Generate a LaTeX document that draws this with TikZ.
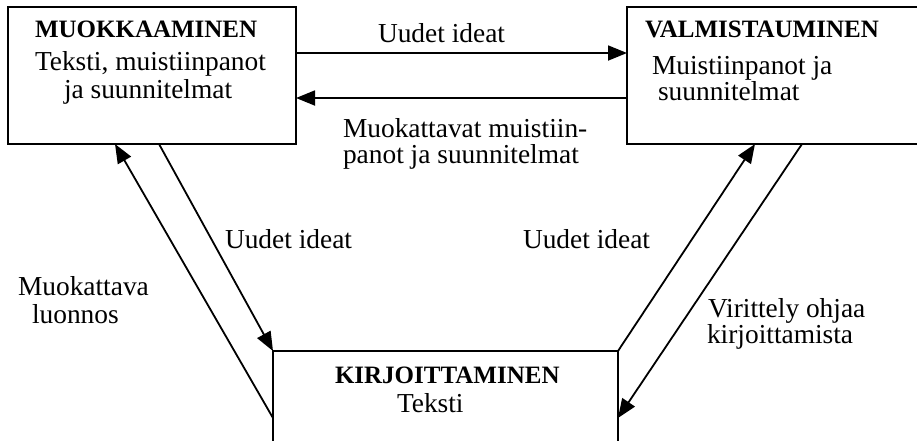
\documentclass[tikz,border=0pt]{standalone}
\usepackage{fontspec}
\setmainfont{Liberation Serif}
\usetikzlibrary{arrows.meta,calc}

\newcommand\lblfont{\fontsize{27.4}{28}\selectfont}
\newcommand\headfont{\fontsize{25}{28}\selectfont\bfseries}

\tikzset{
  stagebox/.style={draw=black, line width=1.5pt, rectangle, outer sep=0pt, inner sep=0pt},
  flow/.style={draw=black, line width=1.8pt, -{Triangle[length=19pt,width=15pt]}},
  txt/.style={anchor=base west, inner sep=0pt, outer sep=0pt, font=\lblfont},
  head/.style={anchor=base west, inner sep=0pt, outer sep=0pt, font=\headfont},
}

\begin{document}
\begin{tikzpicture}[x=1pt, y=-1pt]
  \useasboundingbox (0,0) rectangle (917,440);

  % the three stages
  \node[stagebox, minimum width=288pt, minimum height=137pt] (muok) at (152,75.5) {};
  \node[stagebox, minimum width=303pt, minimum height=137pt] (valm) at (778.5,75.5) {};
  \node[stagebox, minimum width=345pt, minimum height=108pt] (kirj) at (445.5,405) {};

  % stage texts
  \node[head] (muokH) at (35,37) {MUOKKAAMINEN};
  \node[txt]  (muokA) at (35,70) {Teksti, muistiinpanot};
  \node[txt]  (muokB) at (64,98) {ja suunnitelmat};

  \node[head] (valmH) at (645,37) {VALMISTAUMINEN};
  \node[txt]  (valmA) at (652,74) {Muistiinpanot ja};
  \node[txt]  (valmB) at (658,100) {suunnitelmat};

  \node[head] (kirjH) at (335,383) {KIRJOITTAMINEN};
  \node[txt]  (kirjA) at (397,412) {Teksti};

  % connectors between the stages
  \draw[flow] ($(muok.north east)+(0,46)$) -- ($(valm.north west)+(0,46)$);
  \draw[flow] ($(valm.north west)+(0,91)$) -- ($(muok.north east)+(0,91)$);

  \draw[flow] ($(muok.south west)+(151,0)$) -- (kirj.north west);
  \draw[flow] ($(kirj.north west)+(0,67)$) -- ($(muok.south west)+(107,0)$);

  \draw[flow] (kirj.north east) -- ($(valm.south west)+(128,0)$);
  \draw[flow] ($(valm.south west)+(175,0)$) -- ($(kirj.north east)+(0,67)$);

  % connector labels
  \node[txt] (l1) at (378,42) {Uudet ideat};
  \node[txt] (l2a) at (343,137) {Muokattavat muistiin-};
  \node[txt] (l2b) at (343,163) {panot ja suunnitelmat};
  \node[txt] (l3) at (225,248) {Uudet ideat};
  \node[txt] (l4) at (523,248) {Uudet ideat};
  \node[txt] (l5a) at (18,295) {Muokattava};
  \node[txt] (l5b) at (32,323) {luonnos};
  \node[txt] (l6a) at (708,317) {Virittely ohjaa};
  \node[txt] (l6b) at (707,343) {kirjoittamista};
\end{tikzpicture}
\end{document}
